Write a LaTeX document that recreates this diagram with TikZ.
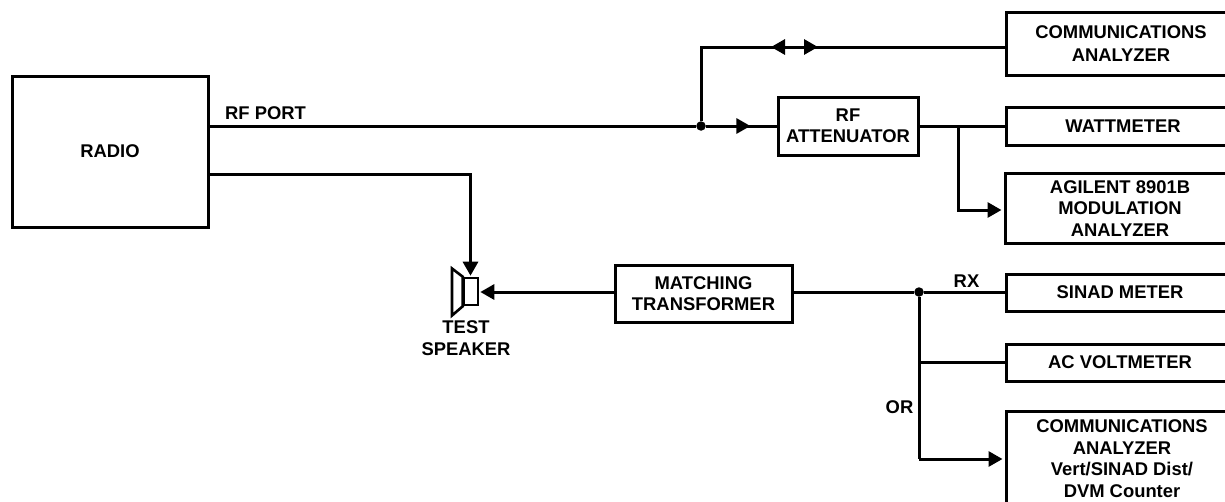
\documentclass[tikz,border=0pt]{standalone}
\usepackage{fontspec}
\setmainfont{Liberation Sans}
\usetikzlibrary{arrows.meta,decorations.markings}
\tikzset{
  x=1pt,y=-1pt,
  every node/.style={font=\fontsize{18.4}{21.5}\selectfont\bfseries},
  box/.style={draw=black,line width=3pt,fill=white,align=center,inner sep=0pt},
  wire/.style={draw=black,line width=3pt},
  tip/.style={-{Triangle[length=14pt,width=15pt]}},
  lab/.style={inner sep=0pt,align=center},
  dotn/.style={circle,fill=black,inner sep=0pt,minimum size=9.5pt},
  midtip/.style={postaction={decorate},decoration={markings,mark=at position #1 with {\arrow{Triangle[length=14pt,width=15pt]}}}},
}
\begin{document}
\begin{tikzpicture}
\useasboundingbox (0,0) rectangle (1225,501);
\node[box,minimum width=196pt,minimum height=151pt] (radio) at (110,151.5) {RADIO};
\node[box,minimum width=230pt,minimum height=63pt] (comm1) at (1121,43.5) {COMMUNICATIONS\\[2pt]ANALYZER};
\node[box,minimum width=140pt,minimum height=58pt] (atten) at (848,126) {RF\\ATTENUATOR};
\node[box,minimum width=234pt,minimum height=38pt] (watt) at (1123,126) {WATTMETER};
\node[box,minimum width=230pt,minimum height=70pt] (mod) at (1120,208.5) {AGILENT 8901B\\MODULATION\\ANALYZER};
\node[box,minimum width=177pt,minimum height=57pt] (match) at (703.5,293.5) {MATCHING\\TRANSFORMER};
\node[box,minimum width=228pt,minimum height=37pt] (sinad) at (1120,292.5) {SINAD METER};
\node[box,minimum width=228pt,minimum height=37pt] (acv) at (1120,362.5) {AC VOLTMETER};
\node[box,minimum width=232pt,minimum height=95pt] (comm2) at (1122,458.5) {COMMUNICATIONS\\ANALYZER\\Vert/SINAD Dist/\\DVM Counter};
\node[dotn] (d1) at (701,126) {};
\node[dotn] (d2) at (919,292) {};
\coordinate (c1) at (701,47);
\coordinate (j1) at (958,126);
\coordinate (c2) at (958,210);
\coordinate (j2) at (919,362);
\coordinate (c3) at (919,459);
\coordinate (spkc) at (470.5,174);
\coordinate (am) at (795,47);
\coordinate (al) at (771,47);
\coordinate (ar) at (818,47);
\node[lab,anchor=west] (rfl) at (225,113) {RF PORT};
\node[lab] (rxl) at (966.5,281) {RX};
\node[lab] (orl) at (899.5,407) {OR};
\node[lab] (tsl) at (466,338) {TEST\\SPEAKER};
% speaker
\node[draw=black,line width=2.6pt,minimum width=14pt,minimum height=27pt,inner sep=0pt] (cone) at (471,291.5) {};
\draw[line width=2.6pt,line join=miter,fill=white] (cone.north west) -- (452,268.5) -- (452,315.5) -- (cone.south west) -- cycle;
\draw[wire] (radio.east |- d1) -- (d1);
\draw[wire,midtip=0.63] (d1) -- (atten.west);
\draw[wire] (d1) -- (c1) -- (comm1.west |- c1);
\draw[wire,tip] (am) -- (al);
\draw[wire,tip] (am) -- (ar);
\draw[wire] (atten.east) -- (watt.west);
\draw[wire,tip,shorten >=2pt] (j1) -- (c2) -- (mod.west |- c2);
\draw[wire,tip,shorten >=1pt] (radio.east |- spkc) -- (spkc) -- (spkc |- cone.north);
\draw[wire,tip,shorten >=1pt] (match.west |- d2) -- (cone.east |- d2);
\draw[wire] (match.east |- d2) -- (d2) -- (sinad.west |- d2);
\draw[wire] (d2) -- (c3);
\draw[wire] (j2) -- (acv.west |- j2);
\draw[wire,tip,shorten >=2pt] (c3) -- (comm2.west |- c3);
\end{tikzpicture}
\end{document}
